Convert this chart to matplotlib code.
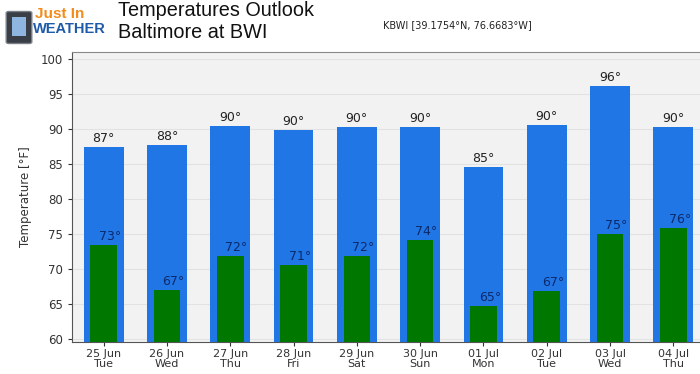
import matplotlib.pyplot as plt
from matplotlib.patches import FancyBboxPatch

# forecast values
dates = ['25 Jun', '26 Jun', '27 Jun', '28 Jun', '29 Jun', '30 Jun',
         '01 Jul', '02 Jul', '03 Jul', '04 Jul']
days = ['Tue', 'Wed', 'Thu', 'Fri', 'Sat', 'Sun', 'Mon', 'Tue', 'Wed', 'Thu']
highs = [87.4, 87.7, 90.4, 89.9, 90.3, 90.3, 84.6, 90.5, 96.1, 90.3]
lows = [73.4, 67.0, 71.9, 70.6, 71.9, 74.1, 64.7, 66.8, 75.0, 75.8]

W, H = 700, 374
fig = plt.figure(figsize=(W / 100, H / 100), dpi=100)
fig.patch.set_facecolor('white')

# axes placement in pixels: left 72, top 52, bottom 342, right past the edge
ax = fig.add_axes([72 / W, (H - 342) / H, (705 - 72) / W, (342 - 52) / H])
ax.set_facecolor('#f2f2f2')

x = range(len(dates))
ax.bar(x, highs, width=0.63, color='#2176e6', zorder=2)
ax.bar(x, lows, width=0.42, color='#007800', zorder=3)

for i in x:
    ax.text(i, highs[i] + 0.3, '%d°' % round(highs[i]), ha='center', va='bottom',
            fontsize=9, color='#222222', zorder=4)
    ax.text(i + 0.1, lows[i] + 0.3, '%d°' % round(lows[i]), ha='center', va='bottom',
            fontsize=9, color='#0b2a6b', zorder=4)

ax.set_xlim(-0.5, 9.5)
ax.set_ylim(59.57, 101.0)
ax.set_yticks(range(60, 101, 5))
ax.set_xticks(list(x))
ax.set_xticklabels([d + '\n' + w for d, w in zip(dates, days)], linespacing=0.95)
ax.tick_params(labelsize=8.5, colors='#333333', length=3)
ax.tick_params(axis='x', labelsize=8, pad=2)
ax.grid(axis='y', color='#e2e2e2', linewidth=0.8, zorder=0)
ax.set_axisbelow(True)
ax.set_ylabel('Temperature [°F]', fontsize=8.5, color='#333333', labelpad=6)

for side in ['left', 'bottom']:
    ax.spines[side].set_color('#555555')
ax.spines['top'].set_color('#888888')
ax.spines['right'].set_visible(False)

# titles
fig.text(118 / W, 1 - 11 / H, 'Temperatures Outlook', fontsize=14.3,
         family='Liberation Sans', va='center', color='#111111')
fig.text(118 / W, 1 - 33 / H, 'Baltimore at BWI', fontsize=14.3,
         family='Liberation Sans', va='center', color='#111111')
fig.text(383 / W, 1 - 25 / H, 'KBWI [39.1754°N, 76.6683°W]', fontsize=7,
         va='center', color='#222222')

# logo approximation
fig.patches.append(FancyBboxPatch((9 / W, 1 - 42 / H), 20 / W, 29 / H,
                                  boxstyle='round,pad=0.004', transform=fig.transFigure,
                                  facecolor='#3a3f47', edgecolor='#7a8088', linewidth=1))
fig.patches.append(FancyBboxPatch((12 / W, 1 - 36 / H), 14 / W, 19 / H,
                                  boxstyle='square,pad=0', transform=fig.transFigure,
                                  facecolor='#8fb6e0', edgecolor='none'))
fig.text(35 / W, 1 - 14 / H, 'Just In', fontsize=11, fontweight='bold',
         color='#f28c1c', va='center', family='Liberation Sans')
fig.text(33 / W, 1 - 29 / H, 'WEATHER', fontsize=10.5, fontweight='bold',
         color='#1d5aa8', va='center', family='Liberation Sans')

fig.savefig('out.png', dpi=100)
